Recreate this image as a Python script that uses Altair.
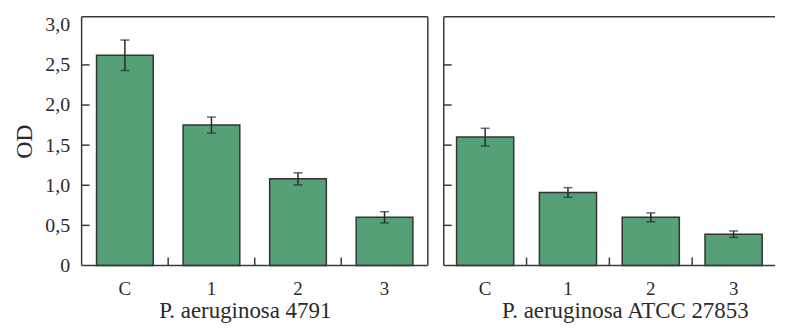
import altair as alt
import pandas as pd

categories = ["C", "1", "2", "3"]
group_titles = ["P. aeruginosa 4791", "P. aeruginosa ATCC 27853"]
od_4791 = [2.62, 1.75, 1.08, 0.60]
err_4791 = [0.19, 0.10, 0.075, 0.07]
od_27853 = [1.60, 0.91, 0.60, 0.39]
err_27853 = [0.11, 0.06, 0.055, 0.04]
y_label_values = [0, 0.5, 1.0, 1.5, 2.0, 2.5, 3.0]
y_tick_values = [0.5, 1.0, 1.5, 2.0, 2.5]
x_tick_cats = ["1", "2", "3"]

FONT = "Liberation Serif"
GREEN = "#56a077"
DARK = "#2a2a2a"
FRAME = "#3a3a3a"
H = 250


def panel(values, errs, title, show_y, title_x, width, band, right_edge):
    df = pd.DataFrame({
        "cat": categories,
        "od": values,
        "lo": [v - e for v, e in zip(values, errs)],
        "hi": [v + e for v, e in zip(values, errs)],
    })
    xaxis = alt.Axis(
        title=title, ticks=False, domain=False, labelAngle=0,
        labelFont=FONT, labelFontSize=19, labelPadding=14, labelColor=DARK,
        titleFont=FONT, titleFontSize=23, titleFontWeight="normal", titleColor=DARK,
        titleX=title_x, titleY=52, titleBaseline="alphabetic", titleAlign="center",
    )
    xscale = alt.Scale(paddingInner=0, paddingOuter=0, range=[0, width])
    yscale = alt.Scale(domain=[0, 3.1], nice=False)
    if show_y:
        yaxis = alt.Axis(
            title="OD", values=y_label_values,
            labelExpr="datum.value == 0 ? '0' : replace(format(datum.value, '.1f'), '.', ',')",
            ticks=False, domain=False, grid=False, labelPadding=12,
            labelFont=FONT, labelFontSize=20, labelColor=DARK,
            titleFont=FONT, titleFontSize=24, titleFontWeight="normal", titleColor=DARK,
            titlePadding=8,
        )
    else:
        yaxis = alt.Axis(title=None, labels=False, ticks=False, domain=False, grid=False)

    x = alt.X("cat:N", sort=categories, scale=xscale, axis=xaxis)
    base = alt.Chart(df)
    bars = base.mark_bar(
        width=alt.RelativeBandSize(band), fill=GREEN, stroke="#333", strokeWidth=1.5
    ).encode(x=x, y=alt.Y("od:Q", scale=yscale, axis=yaxis))
    rule = base.mark_rule(color=DARK, strokeWidth=1.5).encode(
        x=x, y=alt.Y("lo:Q", scale=yscale, axis=yaxis), y2="hi:Q")
    cap_lo = base.mark_tick(color=DARK, size=9, thickness=1.5).encode(
        x=x, y=alt.Y("lo:Q", scale=yscale, axis=yaxis))
    cap_hi = base.mark_tick(color=DARK, size=9, thickness=1.5).encode(
        x=x, y=alt.Y("hi:Q", scale=yscale, axis=yaxis))
    yticks = alt.Chart(pd.DataFrame({"t": y_tick_values})).mark_rule(
        color=FRAME, strokeWidth=1.5).encode(
        y=alt.Y("t:Q", scale=yscale, axis=yaxis), x=alt.value(0), x2=alt.value(8))
    xticks = alt.Chart(pd.DataFrame({"cat": x_tick_cats})).mark_rule(
        color=FRAME, strokeWidth=1.5).encode(
        x=alt.X("cat:N", sort=categories, scale=xscale, axis=xaxis, bandPosition=0),
        y=alt.value(H), y2=alt.value(H - 8))
    one = alt.Chart(pd.DataFrame({"a": [0]}))
    frame = [
        one.mark_rule(color=FRAME, strokeWidth=1.5).encode(
            x=alt.value(0), x2=alt.value(width), y=alt.value(0)),
        one.mark_rule(color=FRAME, strokeWidth=1.5).encode(
            x=alt.value(0), x2=alt.value(width), y=alt.value(H)),
        one.mark_rule(color=FRAME, strokeWidth=1.5).encode(
            x=alt.value(0), y=alt.value(0), y2=alt.value(H)),
    ]
    if right_edge:
        frame.append(one.mark_rule(color=FRAME, strokeWidth=1.5).encode(
            x=alt.value(width), y=alt.value(0), y2=alt.value(H)))
    return alt.layer(bars, rule, cap_lo, cap_hi, yticks, xticks, *frame).properties(
        width=width, height=H)


left = panel(od_4791, err_4791, group_titles[0], True, 164, 348, 0.655, True)
right = panel(od_27853, err_27853, group_titles[1], False, 182, 333, 0.69, False)

chart = alt.hconcat(left, right, spacing=12).properties(
    padding={"left": 4, "top": 5, "right": 0, "bottom": 0}
).configure_view(stroke="transparent")

chart.save("out.html", embed_options={"renderer": "svg", "actions": False})
